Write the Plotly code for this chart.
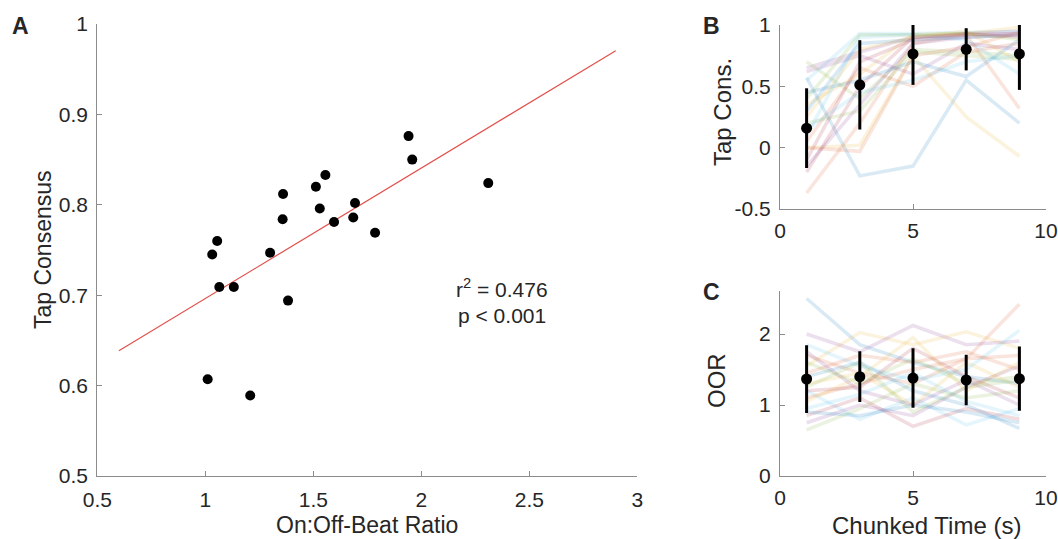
import numpy as np
import plotly.graph_objects as go

# ---------------- Data ----------------
# Panel A: On:Off-beat ratio vs tap consensus (one point per stimulus)
oor_ratio = [1.011, 1.208, 1.032, 1.055, 1.065, 1.132, 1.300, 1.360, 1.358, 1.383,
             1.512, 1.530, 1.556, 1.596, 1.685, 1.693, 1.786, 1.941, 1.958, 2.310]
tap_consensus = [0.607, 0.589, 0.745, 0.760, 0.709, 0.709, 0.747, 0.812, 0.784, 0.694,
                 0.820, 0.796, 0.833, 0.781, 0.786, 0.802, 0.769, 0.876, 0.850, 0.824]
fit_x_range = [0.6, 2.9]
stats_text = ["r<sup>2</sup> = 0.476", "p < 0.001"]

# Panels B & C: chunked time
chunk_time = [1, 3, 5, 7, 9]

tapcons_mean = [0.159, 0.512, 0.764, 0.802, 0.764]
tapcons_err = [0.325, 0.364, 0.252, 0.172, 0.293]

oor_mean = [1.366, 1.399, 1.380, 1.352, 1.371]
oor_err = [0.477, 0.357, 0.418, 0.357, 0.453]

tapcons_subjects = [
    [0.57, -0.23, -0.15, 0.55, 0.20],
    [-0.37, 0.20, 0.85, 0.92, 0.32],
    [0.00, 0.02, 0.75, 0.25, -0.07],
    [0.65, 0.78, 0.90, 0.93, 0.95],
    [0.70, 0.40, 0.80, 0.78, 0.75],
    [0.55, 0.93, 0.93, 0.94, 0.95],
    [-0.20, 0.50, 0.90, 0.92, 0.93],
    [0.30, 0.85, 0.88, 0.90, 0.92],
    [0.05, 0.65, 0.50, 0.78, 0.85],
    [0.35, 0.60, 0.92, 0.93, 0.98],
    [0.62, 0.75, 0.60, 0.85, 0.80],
    [0.20, 0.30, 0.78, 0.75, 0.72],
    [0.10, 0.90, 0.92, 0.88, 0.60],
    [-0.10, 0.70, 0.88, 0.93, 0.90],
    [0.45, 0.55, 0.70, 0.58, 0.88],
    [0.00, -0.03, 0.75, 0.82, 0.94],
    [0.25, 0.80, 0.90, 0.95, 0.70],
    [-0.15, 0.35, 0.85, 0.90, 0.92],
    [0.40, 0.92, 0.92, 0.93, 0.88],
    [0.15, 0.45, 0.55, 0.70, 0.75],
]

oor_subjects = [
    [2.50, 1.85, 1.60, 1.40, 1.30],
    [1.70, 1.45, 1.30, 1.65, 2.42],
    [1.55, 2.02, 1.85, 2.03, 1.80],
    [2.00, 1.75, 2.12, 1.85, 1.90],
    [0.65, 0.95, 1.30, 1.10, 1.20],
    [1.20, 0.80, 1.10, 0.72, 0.95],
    [0.85, 1.10, 0.70, 0.95, 0.80],
    [1.40, 1.60, 1.20, 1.00, 0.67],
    [1.10, 1.30, 1.50, 1.65, 1.70],
    [1.30, 1.45, 1.00, 1.60, 1.25],
    [0.75, 1.00, 0.85, 1.25, 1.55],
    [1.60, 1.30, 1.65, 1.30, 1.40],
    [1.85, 1.55, 1.35, 1.50, 2.05],
    [1.20, 1.25, 1.80, 1.40, 1.10],
    [0.90, 0.85, 1.00, 0.90, 0.75],
    [1.45, 1.70, 1.60, 1.75, 1.50],
    [1.05, 1.40, 1.95, 1.20, 1.60],
    [1.75, 1.20, 1.00, 1.35, 1.00],
    [1.25, 1.60, 0.90, 1.25, 1.35],
    [0.95, 1.15, 1.45, 1.05, 0.85],
]

# MATLAB default line colours (semi-transparent)
line_colors = ["rgba(0,114,189,0.15)", "rgba(217,83,25,0.15)", "rgba(237,177,32,0.15)",
               "rgba(126,47,142,0.15)", "rgba(119,172,48,0.15)", "rgba(77,190,238,0.15)",
               "rgba(162,20,47,0.15)"]

FONT = "Liberation Sans, Arial, Helvetica, sans-serif"
AXCOL = "#8c8c8c"
TXT = "#262626"

W, H = 1058, 539

def px_x(p):
    return p / W

def px_y(p):
    return 1 - p / H

fig = go.Figure()

# ---------------- Panel A ----------------
slope, intercept = np.polyfit(oor_ratio, tap_consensus, 1)
fx = np.array(fit_x_range)
fig.add_trace(go.Scatter(x=fx, y=slope * fx + intercept, mode="lines",
                         line=dict(color="#e2504a", width=1.2),
                         xaxis="x", yaxis="y", showlegend=False, hoverinfo="skip"))
fig.add_trace(go.Scatter(x=oor_ratio, y=tap_consensus, mode="markers",
                         marker=dict(color="black", size=10),
                         xaxis="x", yaxis="y", showlegend=False))

# ---------------- Panel B ----------------
for i, s in enumerate(tapcons_subjects):
    fig.add_trace(go.Scatter(x=chunk_time, y=s, mode="lines",
                             line=dict(color=line_colors[i % 7], width=3.5),
                             xaxis="x2", yaxis="y2", showlegend=False, hoverinfo="skip"))
fig.add_trace(go.Scatter(x=chunk_time, y=tapcons_mean, mode="markers",
                         marker=dict(color="black", size=11),
                         error_y=dict(type="data", array=tapcons_err, color="black",
                                      thickness=3, width=0),
                         xaxis="x2", yaxis="y2", showlegend=False))

# ---------------- Panel C ----------------
for i, s in enumerate(oor_subjects):
    fig.add_trace(go.Scatter(x=chunk_time, y=s, mode="lines",
                             line=dict(color=line_colors[i % 7], width=3.5),
                             xaxis="x3", yaxis="y3", showlegend=False, hoverinfo="skip"))
fig.add_trace(go.Scatter(x=chunk_time, y=oor_mean, mode="markers",
                         marker=dict(color="black", size=11),
                         error_y=dict(type="data", array=oor_err, color="black",
                                      thickness=3, width=0),
                         xaxis="x3", yaxis="y3", showlegend=False))

def axis_common(fs):
    return dict(showline=True, linecolor=AXCOL, linewidth=1.2, mirror=False,
                ticks="inside", ticklen=5, tickwidth=1.2, tickcolor=AXCOL,
                showgrid=False, zeroline=False, automargin=False,
                ticklabeloverflow="allow",
                tickfont=dict(family=FONT, size=fs, color=TXT))

fig.update_layout(
    width=W, height=H,
    margin=dict(l=0, r=0, t=0, b=0, pad=0),
    paper_bgcolor="white", plot_bgcolor="white",
    xaxis=dict(domain=[px_x(97.3), px_x(637.3)], range=[0.5, 3], anchor="y",
               tickvals=[0.5, 1, 1.5, 2, 2.5, 3],
               ticktext=["0.5", "1", "1.5", "2", "2.5", "3"],
               ticklabelstandoff=5, **axis_common(21)),
    yaxis=dict(domain=[px_y(476), px_y(24)], range=[0.5, 1], anchor="x",
               tickvals=[0.5, 0.6, 0.7, 0.8, 0.9, 1],
               ticktext=["0.5", "0.6", "0.7", "0.8", "0.9", "1"],
               ticklabelstandoff=4, **axis_common(21)),
    xaxis2=dict(domain=[px_x(780), px_x(1046)], range=[0, 10], anchor="y2",
                tickvals=[0, 5, 10], ticktext=["0", "5", "10"],
                ticklabelstandoff=3, **axis_common(21)),
    yaxis2=dict(domain=[px_y(209), px_y(25)], range=[-0.5, 1], anchor="x2",
                tickvals=[-0.5, 0, 0.5, 1], ticktext=["-0.5", "0", "0.5", "1"],
                ticklabelstandoff=4, **axis_common(21)),
    xaxis3=dict(domain=[px_x(780), px_x(1046)], range=[0, 10], anchor="y3",
                tickvals=[0, 5, 10], ticktext=["0", "5", "10"],
                ticklabelstandoff=3, **axis_common(21)),
    yaxis3=dict(domain=[px_y(476), px_y(291.4)], range=[0, 2.6], anchor="x3",
                tickvals=[0, 1, 2], ticktext=["0", "1", "2"],
                ticklabelstandoff=4, **axis_common(21)),
)

annots = [
    # panel letters
    dict(text="<b>A</b>", x=px_x(20.5), y=px_y(26), size=23),
    dict(text="<b>B</b>", x=px_x(711), y=px_y(26), size=23),
    dict(text="<b>C</b>", x=px_x(711), y=px_y(292), size=23),
    # axis titles
    dict(text="Tap Consensus", x=px_x(43), y=px_y(250), size=23, angle=-90),
    dict(text="On:Off-Beat Ratio", x=px_x(367), y=px_y(525), size=23),
    dict(text="Tap Cons.", x=px_x(722), y=px_y(112), size=24, angle=-90),
    dict(text="OOR", x=px_x(716), y=px_y(381), size=24, angle=-90),
    dict(text="Chunked Time (s)", x=px_x(926), y=px_y(525), size=24),
]
for a in annots:
    fig.add_annotation(text=a["text"], x=a["x"], y=a["y"], xref="paper", yref="paper",
                       xanchor="center", yanchor="middle", showarrow=False,
                       textangle=a.get("angle", 0),
                       font=dict(family=FONT, size=a["size"], color=TXT))

# statistics text in panel A (data coordinates)
fig.add_annotation(text=stats_text[0], x=2.374, y=0.708, xref="x", yref="y",
                   xanchor="center", yanchor="middle", showarrow=False,
                   font=dict(family=FONT, size=21, color=TXT))
fig.add_annotation(text=stats_text[1], x=2.374, y=0.677, xref="x", yref="y",
                   xanchor="center", yanchor="middle", showarrow=False,
                   font=dict(family=FONT, size=21, color=TXT))

# Remove the browser's default 8 px body margin so the figure fills the window.
fig.write_html("out.html",
               config={"displayModeBar": False},
               post_script="document.body.style.margin='0';"
                           "document.body.style.overflow='hidden';")
